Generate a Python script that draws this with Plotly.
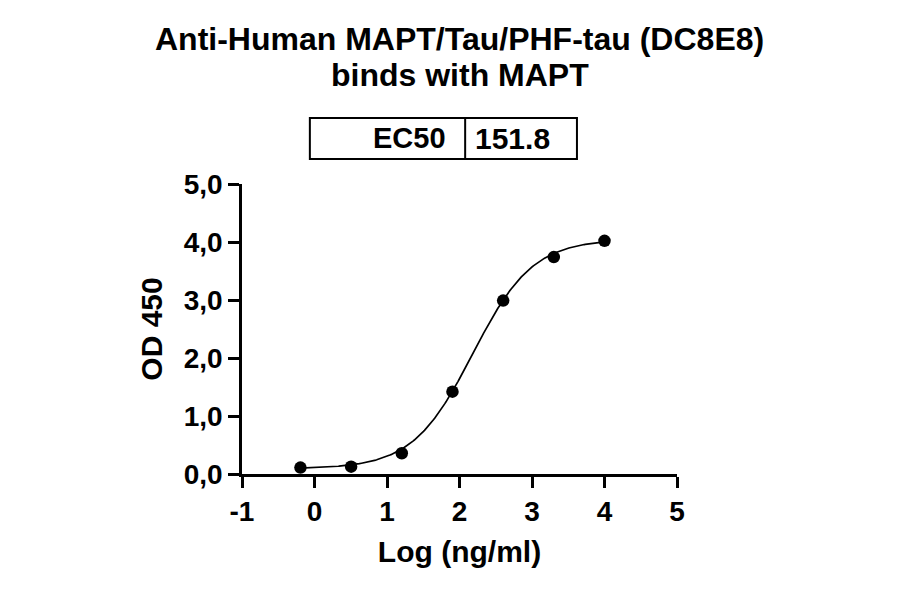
import numpy as np
import plotly.graph_objects as go

# dilution series (ng/ml), plotted on log10 scale
conc_ng_ml = [0.64, 3.2, 16, 80, 400, 2000, 10000]
od450 = [0.11, 0.126, 0.357, 1.42, 2.99, 3.74, 4.02]

# 4PL fit parameters
fit_bottom = 0.09
fit_top = 4.05
fit_ec50 = 151.8
fit_hill = 1.05

y_ticks = [0, 1, 2, 3, 4, 5]
y_ticklabels = ["0,0", "1,0", "2,0", "3,0", "4,0", "5,0"]
x_ticks = [-1, 0, 1, 2, 3, 4, 5]

title_lines = ["Anti-Human MAPT/Tau/PHF-tau (DC8E8)", "binds with MAPT"]

FONT = "Liberation Sans, Arial, sans-serif"

log_x = np.log10(conc_ng_ml)
xs = np.linspace(log_x.min(), log_x.max(), 300)
ys = fit_bottom + (fit_top - fit_bottom) / (1 + 10 ** ((np.log10(fit_ec50) - xs) * fit_hill))

fig = go.Figure()
fig.add_trace(go.Scatter(x=xs, y=ys, mode="lines",
                         line=dict(color="black", width=1.7), hoverinfo="skip"))
fig.add_trace(go.Scatter(x=log_x, y=od450, mode="markers",
                         marker=dict(color="black", size=12.5)))

axis_common = dict(showgrid=False, zeroline=False, showline=True, linecolor="black",
                   linewidth=2.5, ticks="outside", ticklen=11, tickwidth=2.5,
                   tickcolor="black", tickfont=dict(family=FONT, size=28, color="black"))

fig.update_xaxes(range=[-1, 5], tickvals=x_ticks, ticktext=[f"<b>{t}</b>" for t in x_ticks],
                 **axis_common,
                 title=dict(text="<b>Log (ng/ml)</b>", font=dict(family=FONT, size=30, color="black"),
                            standoff=15))
fig.update_yaxes(range=[0, 5], tickvals=y_ticks, ticktext=[f"<b>{t}</b>" for t in y_ticklabels],
                 **axis_common,
                 title=dict(text="<b>OD 450</b>", font=dict(family=FONT, size=30, color="black"),
                            standoff=13))

# title, two lines with tight spacing
fig.add_annotation(xref="paper", yref="paper", x=0.501, y=1.50, xanchor="center", yanchor="middle",
                   text=f"<b>{title_lines[0]}</b>", showarrow=False,
                   font=dict(family=FONT, size=32, color="black"))
fig.add_annotation(xref="paper", yref="paper", x=0.501, y=1.375, xanchor="center", yanchor="middle",
                   text=f"<b>{title_lines[1]}</b>", showarrow=False,
                   font=dict(family=FONT, size=32, color="black"))

# EC50 box
box_y0, box_y1 = 1.086, 1.228
fig.add_shape(type="rect", xref="paper", yref="paper", x0=0.156, x1=0.770, y0=box_y0, y1=box_y1,
              line=dict(color="black", width=2))
fig.add_shape(type="line", xref="paper", yref="paper", x0=0.513, x1=0.513, y0=box_y0, y1=box_y1,
              line=dict(color="black", width=2))
fig.add_annotation(xref="paper", yref="paper", x=0.473, y=(box_y0 + box_y1) / 2, xanchor="right",
                   yanchor="middle", text="<b>EC50</b>", showarrow=False,
                   font=dict(family=FONT, size=29, color="black"))
fig.add_annotation(xref="paper", yref="paper", x=0.531, y=(box_y0 + box_y1) / 2, xanchor="left",
                   yanchor="middle", text=f"<b>{fit_ec50}</b>", showarrow=False,
                   font=dict(family=FONT, size=30, color="black"))

fig.update_layout(
    width=900, height=594,
    showlegend=False,
    plot_bgcolor="white", paper_bgcolor="white",
    margin=dict(l=234, r=231, t=176, b=128),
)

fig.write_html("out.html")
